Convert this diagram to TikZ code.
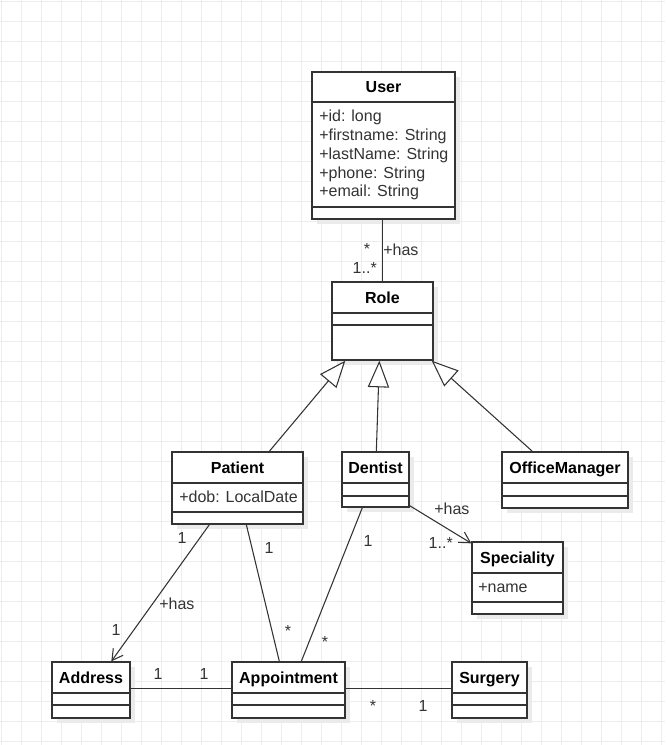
\documentclass[tikz,border=0pt]{standalone}
\usepackage{fontspec}
\setmainfont{Liberation Sans}
\usetikzlibrary{arrows.meta,calc,fit}
\definecolor{gridc}{HTML}{EDEDED}
\definecolor{linec}{HTML}{333333}
\definecolor{shadc}{HTML}{EBEBEB}
\definecolor{txtc}{HTML}{333333}
\tikzset{
 gridline/.style={gridc, line width=0.9pt},
 classbox/.style={draw=linec, fill=white, line width=1pt, inner sep=0pt},
 sepline/.style={linec, line width=1pt},
 shadowbox/.style={fill=shadc},
 titletext/.style={font=\fontsize{12}{14}\selectfont\bfseries, text=black, inner sep=0pt, text height=8.6pt, text depth=0pt},
 attrtext/.style={font=\fontsize{12}{14}\selectfont, text=txtc, inner sep=0pt, anchor=base west},
 lbl/.style={font=\fontsize{12}{14}\selectfont, text=txtc, inner sep=0pt},
 assoc/.style={linec, line width=0.8pt},
 navig/.style={assoc, -{Straight Barb[length=8pt,width=9pt]}},
 generalize/.style={assoc, line join=miter, -{Triangle[fill=white,length=20pt,width=16pt]}},
}
\newcommand\umlclass[8]{%
 \fill[shadowbox] (#2+5,#3+5) rectangle (#4+5,#5+5);
 \path (#2,#3) coordinate (#1-nw) (#4,#5) coordinate (#1-se);
 \node[classbox, fit=(#1-nw)(#1-se)] (#1) {};
 \draw[sepline] (#2,#6) -- (#4,#6);
 \draw[sepline] (#2,#7) -- (#4,#7);
 \node[titletext] (#1-title) at ({(#2+#4)/2},{(#3+#6)/2}) {#8};
}
\begin{document}
\begin{tikzpicture}[x=0.75pt,y=-0.75pt]
\useasboundingbox (0,0) rectangle (665,745);
\fill[white] (0,0) rectangle (665,745);
\foreach \i in {0,...,33} \draw[gridline] (1.7+20*\i,0) -- (1.7+20*\i,745);
\foreach \i in {0,...,37} \draw[gridline] (0,1.7+20*\i) -- (665,1.7+20*\i);

\umlclass{user}{312}{72}{455}{219}{102}{207}{User}
\node[attrtext] (user-a1) at (319,122) {+id: long};
\node[attrtext] (user-a2) at (319,141) {+firstname: String};
\node[attrtext] (user-a3) at (319,160) {+lastName: String};
\node[attrtext] (user-a4) at (319,178.5) {+phone: String};
\node[attrtext] (user-a5) at (319,197) {+email: String};
\umlclass{role}{332}{282}{433}{360}{313}{325}{Role}
\umlclass{patient}{172}{452}{303}{524}{483}{512}{Patient}
\node[attrtext] (patient-a1) at (179,502) {+dob: LocalDate};
\umlclass{dentist}{342}{452}{409}{507}{483}{496}{Dentist}
\umlclass{office}{502}{452}{628}{508}{483}{496}{OfficeManager}
\umlclass{speciality}{472}{542}{563}{614}{573}{602}{Speciality}
\node[attrtext] (speciality-a1) at (478,592) {+name};
\umlclass{address}{52}{662}{130}{718}{693}{705}{Address}
\umlclass{appt}{232}{662}{345}{718}{693}{705}{Appointment}
\umlclass{surgery}{452}{662}{527}{718}{693}{705}{Surgery}

\draw[assoc] (user.south -| role.north) -- (role.north);
\draw[generalize] ($(patient.north west)+(98,0)$) -- ($(role.south west)+(14,0)$);
\draw[generalize] ($(dentist.north west)+(35,0)$) -- ($(role.south west)+(48,0)$);
\draw[generalize] ($(office.north west)+(31,0)$) -- ($(role.south east)+(-2,0)$);
\draw[navig] ($(patient.south west)+(38,0)$) -- ($(address.north west)+(60,0)$);
\draw[assoc] ($(patient.south west)+(75,0)$) -- ($(appt.north west)+(48,0)$);
\draw[assoc] ($(dentist.south west)+(21,0)$) -- ($(appt.north west)+(70,0)$);
\draw[navig] ($(dentist.south east)+(0,-2)$) -- ($(speciality.north west)+(0,2)$);
\draw[assoc] ($(address.north east)+(0,27)$) -- ($(appt.north west)+(0,27)$);
\draw[assoc] ($(appt.north east)+(0,27)$) -- ($(surgery.north west)+(0,27)$);

\node[lbl, anchor=base] (m1) at (367,254) {*};
\node[lbl, anchor=base west] (m2) at (383,255) {+has};
\node[lbl, anchor=base east] (m3) at (377,273) {1..*};
\node[lbl, anchor=base] (m4) at (182,543) {1};
\node[lbl, anchor=base west] (m5) at (159,609) {+has};
\node[lbl, anchor=base] (m6) at (116,635) {1};
\node[lbl, anchor=base] (m7) at (269,553) {1};
\node[lbl, anchor=base] (m8) at (288,636) {*};
\node[lbl, anchor=base] (m9) at (368,546) {1};
\node[lbl, anchor=base] (m10) at (325,647) {*};
\node[lbl, anchor=base west] (m11) at (434,514) {+has};
\node[lbl, anchor=base east] (m12) at (453,548) {1..*};
\node[lbl, anchor=base] (m13) at (158,679) {1};
\node[lbl, anchor=base] (m14) at (204,679) {1};
\node[lbl, anchor=base] (m15) at (373,711) {*};
\node[lbl, anchor=base] (m16) at (423,711) {1};
\end{tikzpicture}
\end{document}
